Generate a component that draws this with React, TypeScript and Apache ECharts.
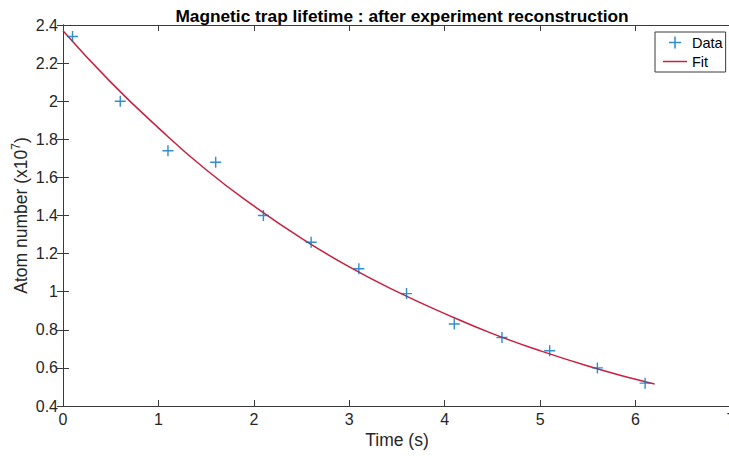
import React, { useEffect, useRef } from "react";
import * as echarts from "echarts";

const dataTimes = [0.1, 0.6, 1.1, 1.6, 2.1, 2.6, 3.1, 3.6, 4.1, 4.6, 5.1, 5.6, 6.1];
const dataValues = [2.34, 2.0, 1.74, 1.68, 1.4, 1.26, 1.12, 0.99, 0.83, 0.76, 0.69, 0.6, 0.52];

const fitTimes = [0, 0.5, 1, 1.5, 2, 2.5, 3, 3.5, 4, 4.5, 5, 5.5, 6, 6.2];
const fitValues = [2.37, 2.1, 1.86, 1.64, 1.45, 1.28, 1.13, 1.0, 0.885, 0.78, 0.69, 0.61, 0.54, 0.515];

const xTicks = { min: 0, max: 7, interval: 1 };
const yTicks = { min: 0.4, max: 2.4, interval: 0.2 };

const TITLE = "Magnetic trap lifetime : after experiment reconstruction";
const X_NAME = "Time (s)";
const Y_NAME = "Atom number (x10{sup|7})";
const SERIES_NAMES = ["Data", "Fit"];

const PLUS = "path://M4.35,0h1.3v4.35h4.35v1.3h-4.35v4.35h-1.3v-4.35h-4.35v-1.3h4.35z";
const LINE_ICON = "path://M0,0h24v1.5h-24z";

const FONT = "'Liberation Sans', Arial, Helvetica, sans-serif";
const AX = "#262626";
const BLUE = "#0072BD";
const RED = "#C8203F";

export default function App() {
  const ref = useRef<HTMLDivElement>(null);
  useEffect(() => {
    document.body.style.margin = "0";
    if (!ref.current) return;
    const chart = echarts.init(ref.current, null, { renderer: "svg" });
    const axisLine = { show: true, lineStyle: { color: "#3a3a3a", width: 1 } };
    const axisTick = { show: true, inside: true, length: 6, lineStyle: { color: "#3a3a3a", width: 1 } };
    chart.setOption({
      animation: false,
      backgroundColor: "#ffffff",
      textStyle: { fontFamily: FONT },
      title: {
        text: TITLE,
        left: 397,
        textAlign: "center",
        top: 2,
        textStyle: { fontFamily: FONT, fontSize: 17.3, fontWeight: "bold", color: "#000" },
      },
      grid: { left: 63, top: 25, width: 668, height: 381, containLabel: false, outerBoundsMode: "none" },
      legend: {
        left: 655,
        top: 32,
        orient: "vertical",
        backgroundColor: "#fff",
        borderColor: "#3a3a3a",
        borderWidth: 1,
        borderRadius: 0,
        padding: [3, 3, 3, 8],
        itemWidth: 24,
        itemHeight: 12,
        itemGap: 4,
        textStyle: { fontFamily: FONT, fontSize: 14.5, color: "#000" },
        data: [
          { name: SERIES_NAMES[0], icon: PLUS },
          { name: SERIES_NAMES[1], icon: LINE_ICON },
        ],
      },
      xAxis: [
        {
          type: "value",
          position: "bottom",
          ...xTicks,
          axisLine,
          axisTick,
          splitLine: { show: false },
          axisLabel: { color: AX, fontSize: 16, margin: 5, fontFamily: FONT },
          name: X_NAME,
          nameLocation: "middle",
          nameGap: 25,
          nameMoveOverlap: false,
          nameTextStyle: { color: AX, fontSize: 17.5, fontFamily: FONT },
        },
        {
          type: "value",
          position: "top",
          ...xTicks,
          axisLine,
          axisTick,
          splitLine: { show: false },
          axisLabel: { show: false },
        },
      ],
      yAxis: [
        {
          type: "value",
          position: "left",
          ...yTicks,
          axisLine,
          axisTick,
          splitLine: { show: false },
          axisLabel: { color: AX, fontSize: 16, margin: 5, fontFamily: FONT },
          name: Y_NAME,
          nameLocation: "middle",
          nameRotate: 90,
          nameGap: 32,
          nameMoveOverlap: false,
          nameTextStyle: {
            color: AX,
            fontSize: 17.5,
            fontFamily: FONT,
            rich: { sup: { fontSize: 12, color: AX, fontFamily: FONT, padding: [0, 0, 9, 0] } },
          },
        },
        {
          type: "value",
          position: "right",
          ...yTicks,
          axisLine,
          axisTick,
          splitLine: { show: false },
          axisLabel: { show: false },
        },
      ],
      series: [
        {
          name: SERIES_NAMES[0],
          type: "scatter",
          symbol: PLUS,
          symbolSize: 11,
          itemStyle: { color: BLUE },
          data: dataTimes.map((t, i) => [t, dataValues[i]]),
          z: 3,
        },
        {
          name: SERIES_NAMES[1],
          type: "line",
          symbol: "none",
          smooth: true,
          lineStyle: { color: RED, width: 1.5 },
          itemStyle: { color: RED },
          data: fitTimes.map((t, i) => [t, fitValues[i]]),
          z: 2,
        },
      ],
    });
    return () => chart.dispose();
  }, []);
  return <div ref={ref} style={{ width: 729, height: 456 }} />;
}
